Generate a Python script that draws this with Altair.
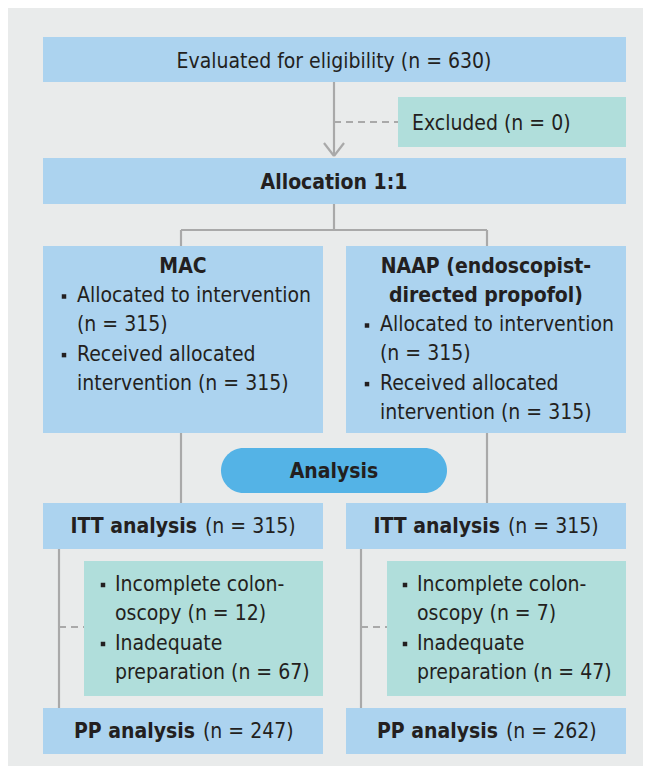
import altair as alt
import pandas as pd

# ---------------- content ----------------
n_evaluated = 630
n_excluded = 0
arm_names = ["MAC", "NAAP (endoscopist-directed propofol)"]
arm_title_lines = [["MAC"], ["NAAP (endoscopist-", "directed propofol)"]]
n_allocated = [315, 315]
n_received = [315, 315]
n_itt = [315, 315]
n_incomplete = [12, 7]
n_inadequate = [67, 47]
n_pp = [247, 262]

# ---------------- style ----------------
BLUE = "#acd3ef"
TEAL = "#b0dedb"
BG = "#e9ebeb"
PILL = "#54b3e6"
LINE = "#a9a9a9"
TXT = "#231f20"
FONT = "DejaVu Sans Condensed"
FS = 21

# ---------------- layout (pixel-like coordinates of the diagram) ----------------
box_rows = [
    # x, x2, y, y2, fill
    (8, 643, 8, 766, BG),
    (43, 626, 37, 82, BLUE),
    (398, 626, 97, 147, TEAL),
    (43, 626, 158, 204, BLUE),
    (43, 323, 246, 433, BLUE),
    (346, 626, 246, 433, BLUE),
    (43, 323, 503, 549, BLUE),
    (346, 626, 503, 549, BLUE),
    (84, 323, 561, 696, TEAL),
    (387, 626, 561, 696, TEAL),
    (43, 323, 708, 754, BLUE),
    (346, 626, 708, 754, BLUE),
]
boxes = pd.DataFrame(box_rows, columns=["x", "x2", "y", "y2", "fill"])
pill = pd.DataFrame([(221, 447, 448, 493, PILL)], columns=["x", "x2", "y", "y2", "fill"])

solid_rows = [
    (334, 334, 82, 156),
    (324, 334, 143, 156),
    (344, 334, 143, 156),
    (334, 334, 204, 230),
    (181, 487, 230, 230),
    (181, 181, 230, 246),
    (487, 487, 230, 246),
    (181, 181, 433, 503),
    (487, 487, 433, 503),
    (59, 59, 549, 708),
    (361, 361, 549, 708),
]
solid = pd.DataFrame(solid_rows, columns=["x", "x2", "y", "y2"])
dashed = pd.DataFrame([(334, 398, 122, 122), (59, 84, 627, 627), (361, 387, 627, 627)],
                      columns=["x", "x2", "y", "y2"])

# ---------------- text rows ----------------
center_bold, center_norm, left_norm, right_bold = [], [], [], []
center_norm.append((f"Evaluated for eligibility (n = {n_evaluated})", 334, 60))
left_norm.append((f"Excluded (n = {n_excluded})", 412, 122))
center_bold.append(("Allocation 1:1", 334, 181))
center_bold.append(("Analysis", 334, 470))

arm_cx = [183, 486]
arm_tx = [77, 380]
title_y = [265, 294.5, 323.5]
line_step = 29.3
bullets = []
for i in range(2):
    for j, t in enumerate(arm_title_lines[i]):
        center_bold.append((t, arm_cx[i], title_y[j]))
    y0 = title_y[len(arm_title_lines[i])]
    lines = ["Allocated to intervention", f"(n = {n_allocated[i]})",
             "Received allocated", f"intervention (n = {n_received[i]})"]
    for k, t in enumerate(lines):
        left_norm.append((t, arm_tx[i], y0 + k * line_step))
    bullets.append((arm_tx[i] - 13, y0 + 0.5))
    bullets.append((arm_tx[i] - 13, y0 + 2 * line_step + 0.5))

# ITT / PP rows (bold label + normal count)
itt_split = [(197, 205), (500, 508)]
pp_split = [(195, 203), (498, 506)]
for i in range(2):
    right_bold.append(("ITT analysis", itt_split[i][0], 525))
    left_norm.append((f"(n = {n_itt[i]})", itt_split[i][1], 525))
    right_bold.append(("PP analysis", pp_split[i][0], 730))
    left_norm.append((f"(n = {n_pp[i]})", pp_split[i][1], 730))

teal_tx = [115, 417]
teal_y = [583, 612.5, 642, 671]
for i in range(2):
    lines = ["Incomplete colon-", f"oscopy (n = {n_incomplete[i]})",
             "Inadequate", f"preparation (n = {n_inadequate[i]})"]
    for k, t in enumerate(lines):
        left_norm.append((t, teal_tx[i], teal_y[k]))
    bullets.append((teal_tx[i] - 12, teal_y[0] + 0.5))
    bullets.append((teal_tx[i] - 12, teal_y[2] + 0.5))

def tdf(rows):
    return pd.DataFrame(rows, columns=["t", "x", "y"])

bul = pd.DataFrame(bullets, columns=["x", "y"])

# ---------------- chart ----------------
W, H = 635, 758
xs = alt.Scale(domain=[8, 8 + W], nice=False, zero=False)
ys = alt.Scale(domain=[8, 8 + H], nice=False, zero=False, reverse=True)
X = alt.X("x:Q", scale=xs, axis=None)
Y = alt.Y("y:Q", scale=ys, axis=None)

rects = alt.Chart(boxes).mark_rect().encode(
    x=X, x2="x2:Q", y=Y, y2="y2:Q", color=alt.Color("fill:N", scale=None))
pill_l = alt.Chart(pill).mark_rect(cornerRadius=22.5).encode(
    x=X, x2="x2:Q", y=Y, y2="y2:Q", color=alt.Color("fill:N", scale=None))
solid_l = alt.Chart(solid).mark_rule(color=LINE, strokeWidth=2.2).encode(
    x=X, x2="x2:Q", y=Y, y2="y2:Q")
dash_l = alt.Chart(dashed).mark_rule(color=LINE, strokeWidth=2.2, strokeDash=[7, 5]).encode(
    x=X, x2="x2:Q", y=Y, y2="y2:Q")

def text_layer(rows, align, weight):
    return alt.Chart(tdf(rows)).mark_text(
        align=align, baseline="middle", font=FONT, fontSize=FS, dy=1.5,
        fontWeight=weight, color=TXT).encode(x=X, y=Y, text="t:N")

bullet_l = alt.Chart(bul).mark_square(size=20, color=TXT, opacity=1, yOffset=1.5).encode(x=X, y=Y)

chart = alt.layer(
    rects, solid_l, dash_l, pill_l,
    text_layer(center_bold, "center", "bold"),
    text_layer(center_norm, "center", "normal"),
    text_layer(left_norm, "left", "normal"),
    text_layer(right_bold, "right", "bold"),
    bullet_l,
).properties(width=W, height=H, padding=0, autosize=alt.AutoSizeParams(type="none")
).configure_view(stroke=None)

chart.save("out.html", embed_options={"renderer": "svg", "actions": False})
